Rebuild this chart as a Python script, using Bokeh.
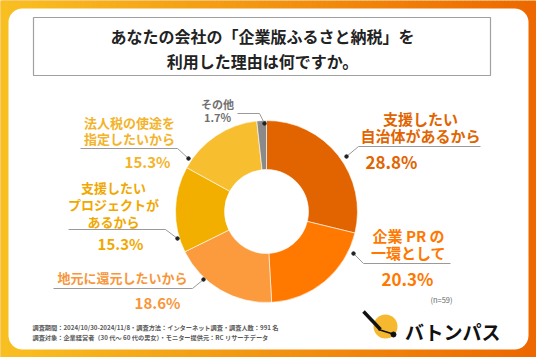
import numpy as np
from bokeh.plotting import figure
from bokeh.models import Range1d, BoxAnnotation
from bokeh.core.properties import value
from bokeh.embed import file_html
from bokeh.resources import INLINE

# ---- data ----
categories = ["支援したい自治体があるから", "企業PRの一環として", "地元に還元したいから",
              "支援したいプロジェクトがあるから", "法人税の使途を指定したいから", "その他"]
percent = [28.8, 20.3, 18.6, 15.3, 15.3, 1.7]
label_lines = [["支援したい", "自治体があるから"], ["企業 PR の", "一環として"], ["地元に還元したいから"],
               ["支援したい", "プロジェクトが", "あるから"], ["法人税の使途を", "指定したいから"], ["その他"]]
sample_note = "(n=59)"
title_lines = ["あなたの会社の「企業版ふるさと納税」を", "利用した理由は何ですか。"]
footer_lines = ["調査期間：2024/10/30-2024/11/8・調査方法：インターネット調査・調査人数：991 名",
                "調査対象：企業経営者（30 代～ 60 代の男女）・モニター提供元：RC リサーチデータ"]
brand = "バトンパス"

# ---- style ----
W, H = 536, 357
FONT = "Noto Sans CJK JP"
slice_colors = ["#E16400", "#FF7800", "#FB9B3D", "#F2AF00", "#F7BE30", "#8A8A8A"]
text_colors = ["#E16400", "#FF7800", "#F7963A", "#F0A800", "#F3B32A", "#707070"]

def Y(y):
    return H - y

p = figure(width=W, height=H, x_range=Range1d(0, W), y_range=Range1d(0, H),
           output_backend="svg", toolbar_location=None, min_border=0,
           x_axis_type=None, y_axis_type=None)
p.grid.visible = False
p.outline_line_color = None
p.background_fill_color = "#F5A020"
p.border_fill_color = None

# gradient background (decoration)
n = 134
xs = np.linspace(0, W, n + 1)
c0 = np.array([249, 192, 34])
c1 = np.array([237, 104, 0])
cols = []
for i in range(n):
    t = (i + 0.5) / n
    c = (c0 * (1 - t) + c1 * t).astype(int)
    cols.append("#%02x%02x%02x" % tuple(c))
bg = p.quad(left=xs[:-1], right=xs[1:] + 0.5, bottom=0, top=H, fill_color=cols, line_color=None)
bg.level = "image"

panel = BoxAnnotation(left=8, right=528, bottom=Y(349), top=Y(8), fill_color="white",
                      fill_alpha=1, line_color=None, border_radius=14, level="underlay")
p.add_layout(panel)

# title box
p.quad(left=33, right=490, bottom=Y(75), top=Y(17), fill_color="white",
       line_color="#A0A0A0", line_width=1.2)
p.text(x=[262, 262], y=[Y(35), Y(60)], text=title_lines, text_align="center",
       text_baseline="middle", text_font=value(FONT), text_font_style="bold",
       text_font_size="16px", text_color="#222222")

# donut
cx, cy = 266, Y(211)
frac = np.array(percent) / sum(percent)
cum = np.concatenate([[0], np.cumsum(frac)])
start = np.pi / 2 - cum[:-1] * 2 * np.pi
end = np.pi / 2 - cum[1:] * 2 * np.pi
p.annular_wedge(x=cx, y=cy, inner_radius=42, outer_radius=91, start_angle=start,
                end_angle=end, direction="clock", fill_color=slice_colors,
                line_color="white", line_width=0.6)

# labels: (line pts in pixel coords, text centre x, text ys, pct centre x, pct y, sizes)
layout = [
    dict(pts=[(346, 156), (358, 146), (480, 146)], tx=420, ty=[118, 135], px=391, py=161, fs=15, ps=17),
    dict(pts=[(353, 253), (363, 263), (450, 263)], tx=408, ty=[235, 252], px=407, py=278, fs=15, ps=17),
    dict(pts=[(203, 279), (192, 288), (53, 288)], tx=122, ty=[277], px=157, py=302, fs=13, ps=15),
    dict(pts=[(177, 238), (165, 229), (68, 229)], tx=113, ty=[187, 204, 221], px=120, py=243, fs=13, ps=15),
    dict(pts=[(188, 158), (177, 148), (80, 148)], tx=129, ty=[122, 138], px=147, py=161, fs=13, ps=15),
]
for i, L in enumerate(layout):
    px_, py_ = zip(*L["pts"])
    p.line(x=list(px_), y=[Y(v) for v in py_], line_color="#9A9A9A", line_width=1)
    p.scatter(x=[px_[0]], y=[Y(py_[0])], size=3.5, color="#222222")
    p.text(x=[L["tx"]] * len(label_lines[i]), y=[Y(v) for v in L["ty"]], text=label_lines[i],
           text_align="center", text_baseline="middle", text_font=value(FONT),
           text_font_style="bold", text_font_size=f"{L['fs']}px", text_color=text_colors[i])
    p.text(x=[L["px"]], y=[Y(L["py"])], text=[f"{percent[i]:.1f}%"], text_align="center",
           text_baseline="middle", text_font=value(FONT), text_font_style="bold",
           text_font_size=f"{L['ps']}px", text_color=text_colors[i])

# その他
p.line(x=[237, 259, 264], y=[Y(113), Y(113), Y(123)], line_color="#9A9A9A", line_width=1)
p.scatter(x=[264], y=[Y(123)], size=3.5, color="#222222")
p.text(x=[217, 217], y=[Y(103), Y(116)], text=[label_lines[5][0], f"{percent[5]:.1f}%"],
       text_align="center", text_baseline="middle", text_font=value(FONT),
       text_font_style="bold", text_font_size="11px", text_color=text_colors[5])

# n note
p.text(x=[441], y=[Y(299)], text=[sample_note], text_align="center", text_baseline="middle",
       text_font=value(FONT), text_font_size="7.5px", text_color="#666666")

# footer
p.text(x=[32, 32], y=[Y(327), Y(337)], text=footer_lines, text_align="left",
       text_baseline="middle", text_font=value(FONT), text_font_size="6.2px",
       text_font_style="bold", text_color="#5a5a5a")

# logo
p.circle(x=[385], y=[Y(326)], radius=12, fill_color="#F5B82E", line_color=None)
p.line(x=[363, 380], y=[Y(311), Y(329)], line_color="#111111", line_width=3.5)
p.line(x=[378, 394], y=[Y(329), Y(334)], line_color="#111111", line_width=1.5)
p.scatter(x=[393], y=[Y(334)], size=5, color="#111111")
p.text(x=[452], y=[Y(331)], text=[brand], text_align="center", text_baseline="middle",
       text_font=value(FONT), text_font_style="bold", text_font_size="19px",
       text_color="#111111")

open("out.html", "w").write(file_html(p, INLINE))
